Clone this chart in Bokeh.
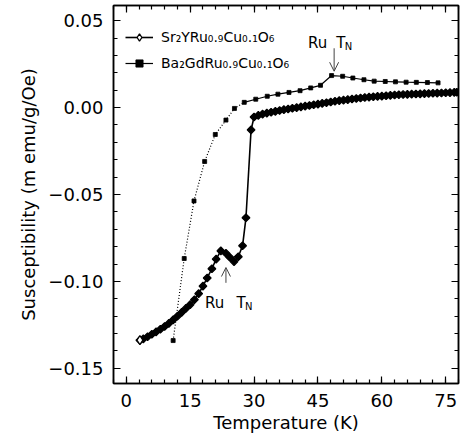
import numpy as np
from bokeh.plotting import figure
from bokeh.models import (Range1d, LinearAxis, FixedTicker, Legend, LegendItem,
                          Label, Arrow, OpenHead, CustomLabelingPolicy)
from bokeh.embed import file_html
from bokeh.resources import INLINE

# ---------------- data ----------------
sr_T = [3.2, 4, 5, 6, 7, 8, 9, 10, 11, 12, 13, 14, 15, 16, 17, 18, 19,
        20.1, 21.1, 22.2, 23.4, 24.3, 25.3, 26.3, 27.3, 28.1, 29.3, 30,
        31, 32, 33, 34, 35, 36, 37, 38, 39, 40, 41, 42, 43, 44, 45, 46, 47,
        48, 49, 50, 51, 52, 53, 54, 55, 56, 57, 58, 59, 60, 61, 62, 63, 64,
        65, 66, 67, 68, 69, 70, 71, 72, 73, 74, 75, 76, 77, 77.6]
sr_chi = [-0.1338, -0.1330, -0.1318, -0.1304, -0.1290, -0.1275, -0.1259,
          -0.1241, -0.1221, -0.1200, -0.1178, -0.1155, -0.1133, -0.1105,
          -0.1070, -0.1027, -0.0980, -0.0927, -0.0872, -0.0824, -0.0838,
          -0.0861, -0.0886, -0.0858, -0.0795, -0.0634, -0.0128, -0.0054,
          -0.0045, -0.0038, -0.0032, -0.0027, -0.0022, -0.0017, -0.0012,
          -0.0008, -0.0004, 0.0000, 0.0004, 0.0008, 0.0012, 0.0016, 0.0020,
          0.0024, 0.0028, 0.0032, 0.0036, 0.0040, 0.0043, 0.0046, 0.0049,
          0.0052, 0.0055, 0.0058, 0.0060, 0.0062, 0.0064, 0.0066, 0.0068,
          0.0070, 0.0072, 0.0074, 0.0075, 0.0076, 0.0077, 0.0078, 0.0079,
          0.0080, 0.0081, 0.0082, 0.0083, 0.0084, 0.0085, 0.0086, 0.0087,
          0.0088]

ba_T = [11.0, 13.6, 15.9, 18.4, 20.9, 23.4, 25.4, 27.7, 30.4, 33.1, 35.6,
        38.2, 40.8, 43.3, 45.6, 48.2, 50.8, 53.2, 55.8, 58.2, 60.8, 63.2,
        65.7, 68.1, 70.7, 73.2]
ba_chi = [-0.1340, -0.0868, -0.0537, -0.0310, -0.0155, -0.0072, -0.0005,
          0.0030, 0.0048, 0.0065, 0.0077, 0.0087, 0.0097, 0.0113, 0.0128,
          0.0184, 0.0180, 0.0170, 0.0160, 0.0152, 0.0150, 0.0148, 0.0146,
          0.0145, 0.0144, 0.0142]

series_labels = ["Sr\u2082YRu\u2080.\u2089Cu\u2080.\u2081O\u2086",
                 "Ba\u2082GdRu\u2080.\u2089Cu\u2080.\u2081O\u2086"]
x_ticks = [0, 15, 30, 45, 60, 75]
x_tick_labels = ["0", "15", "30", "45", "60", "75"]
y_ticks = [0.05, 0.0, -0.05, -0.1, -0.15]
y_tick_labels = ["0.05", "0.00", "\u22120.05", "\u22120.10", "\u22120.15"]
x_label = "Temperature (K)"
y_label = "Susceptibility (m emu/g/Oe)"
annot_main = "Ru"
annot_T = "T"
annot_sub = "N"

FONT = "DejaVu Sans"

p = figure(width=464, height=441, output_backend="svg", toolbar_location=None,
           x_range=Range1d(-3, 78), y_range=Range1d(-0.1587, 0.0587),
           min_border_left=113, min_border_right=1, min_border_top=5,
           min_border_bottom=58, x_axis_label=x_label, y_axis_label=y_label)
p.xgrid.visible = False
p.ygrid.visible = False
p.outline_line_color = "black"
p.outline_line_width = 1.5
p.background_fill_color = "white"
p.border_fill_color = "white"

x_minor = [float(v) for v in np.arange(-3, 79, 3)]
y_minor = [round(v, 2) for v in np.arange(-0.16, 0.0601, 0.01)]

no_labels = CustomLabelingPolicy(code="""
try { return new indices.constructor(indices.size, 0) } catch (e) { return indices }
""")


def style_axis(ax, show_labels, label_standoff=8):
    ax.axis_line_color = "black"
    ax.axis_line_width = 1.5
    ax.major_tick_in = 7
    ax.major_tick_out = 0
    ax.minor_tick_in = 4
    ax.minor_tick_out = 0
    ax.major_tick_line_width = 1.2
    ax.minor_tick_line_width = 1.2
    ax.major_tick_line_color = "black"
    ax.minor_tick_line_color = "black"
    if show_labels:
        ax.major_label_text_font = FONT
        ax.major_label_text_font_size = "18px"
        ax.major_label_text_color = "black"
        ax.major_label_standoff = 10
        ax.axis_label_text_font = FONT
        ax.axis_label_text_font_size = "18px"
        ax.axis_label_text_font_style = "normal"
        ax.axis_label_text_color = "black"
        ax.axis_label_standoff = label_standoff
    else:
        ax.major_label_policy = no_labels
        ax.major_label_text_font_size = "1px"
        ax.major_label_standoff = 0


xa = p.xaxis[0]
xa.ticker = FixedTicker(ticks=x_ticks, minor_ticks=x_minor)
xa.major_label_overrides = dict(zip(x_ticks, x_tick_labels))
style_axis(xa, True, label_standoff=2)
ya = p.yaxis[0]
ya.ticker = FixedTicker(ticks=y_ticks, minor_ticks=y_minor)
ya.major_label_overrides = dict(zip(y_ticks, y_tick_labels))
style_axis(ya, True, label_standoff=6)

top_ax = LinearAxis(ticker=FixedTicker(ticks=x_ticks, minor_ticks=x_minor))
style_axis(top_ax, False)
p.add_layout(top_ax, "above")
right_ax = LinearAxis(ticker=FixedTicker(ticks=y_ticks, minor_ticks=y_minor))
style_axis(right_ax, False)
p.add_layout(right_ax, "right")

# ---------------- Sr2YRu0.9Cu0.1O6 ----------------
sr_line = p.line(sr_T, sr_chi, line_color="black", line_width=1.6)
p.scatter(sr_T, sr_chi, marker="square", angle=np.pi / 4, size=5.5,
          fill_color="black", line_color="black", line_width=1.2)
# first point is drawn open (also serves as the legend glyph)
sr_open = p.scatter(sr_T[:1], sr_chi[:1], marker="diamond", size=9,
                    fill_color="white", line_color="black", line_width=1.3)

# ---------------- Ba2GdRu0.9Cu0.1O6 ----------------
n_dot = 8
p.line(ba_T[:n_dot], ba_chi[:n_dot], line_color="black", line_width=1.2,
       line_dash="1 2")
ba_line = p.line(ba_T[n_dot - 1:], ba_chi[n_dot - 1:], line_color="black",
                 line_width=1.2)
ba_pts = p.scatter(ba_T, ba_chi, marker="square", size=4, fill_color="black",
                   line_color="black", line_width=0.8)

legend = Legend(items=[LegendItem(label=series_labels[0], renderers=[sr_line, sr_open]),
                       LegendItem(label=series_labels[1], renderers=[ba_line, ba_pts])],
                location=(12, 311), glyph_width=28, glyph_height=18,
                label_height=18, label_standoff=8, spacing=8, padding=0,
                margin=0, border_line_color=None, background_fill_alpha=0,
                label_text_font=FONT, label_text_font_size="14px",
                label_text_color="black")
p.add_layout(legend, "center")

# ---------------- annotations ----------------
arrow_kw = dict(line_color="#444444", line_width=1)
p.add_layout(Arrow(end=OpenHead(size=9, line_color="#444444", line_width=1),
                   x_start=48.8, y_start=0.0341, x_end=48.8, y_end=0.0209,
                   **arrow_kw))
p.add_layout(Arrow(end=OpenHead(size=9, line_color="#444444", line_width=1),
                   x_start=23.4, y_start=-0.1008, x_end=23.4, y_end=-0.0920,
                   **arrow_kw))

lab_kw = dict(text_font=FONT, text_color="black", text_baseline="middle")
p.add_layout(Label(x=47.2, y=0.0372, text=annot_main, text_font_size="15px",
                   text_align="right", **lab_kw))
p.add_layout(Label(x=49.3, y=0.0372, text=annot_T, text_font_size="15px",
                   text_align="left", **lab_kw))
p.add_layout(Label(x=51.3, y=0.0352, text=annot_sub, text_font_size="10px",
                   text_align="left", **lab_kw))
p.add_layout(Label(x=23.0, y=-0.1124, text=annot_main, text_font_size="15px",
                   text_align="right", **lab_kw))
p.add_layout(Label(x=25.9, y=-0.1124, text=annot_T, text_font_size="15px",
                   text_align="left", **lab_kw))
p.add_layout(Label(x=27.9, y=-0.1144, text=annot_sub, text_font_size="10px",
                   text_align="left", **lab_kw))

open("out.html", "w").write(file_html(p, INLINE))
